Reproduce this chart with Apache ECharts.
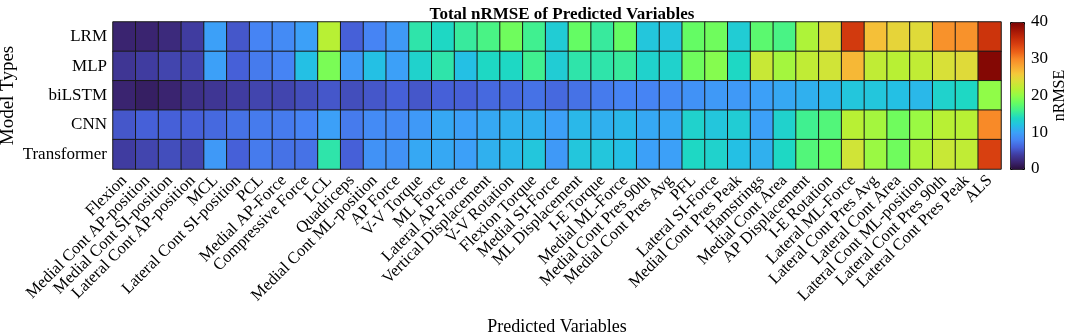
<!DOCTYPE html>
<html>
<head>
<meta charset="utf-8">
<script src="https://cdn.jsdelivr.net/npm/echarts@6/dist/echarts.min.js"></script>
<style>
  html, body { margin: 0; padding: 0; background: #fff; }
  #chart { width: 1065px; height: 334px; }
</style>
</head>
<body>
<div id="chart"></div>
<script>
// Data ---------------------------------------------------------------
const models = ['LRM', 'MLP', 'biLSTM', 'CNN', 'Transformer'];

const variables = [
    'Flexion', 'Medial Cont AP-position', 'Medial Cont SI-position', 'Lateral Cont AP-position',
    'MCL', 'Lateral Cont SI-position', 'PCL', 'Medial AP-Force', 'Compressive Force', 'LCL',
    'Quadriceps', 'Medial Cont ML-position', 'AP Force', 'V-V Torque', 'ML Force',
    'Lateral AP-Force', 'Vertical Displacement', 'V-V Rotation', 'Flexion Torque',
    'Medial SI-Force', 'ML Displacement', 'I-E Torque', 'Medial ML-Force',
    'Medial Cont Pres 90th', 'Medial Cont Pres Avg', 'PFL', 'Lateral SI-Force',
    'Medial Cont Pres Peak', 'Hamstrings', 'Medial Cont Area', 'AP Displacement',
    'I-E Rotation', 'Lateral ML-Force', 'Lateral Cont Pres Avg', 'Lateral Cont Area',
    'Lateral Cont ML-position', 'Lateral Cont Pres 90th', 'Lateral Cont Pres Peak', 'ALS'
];

const lrm = [2, 2, 2.5, 4, 10, 5.5, 8, 8.5, 10, 22, 6, 8, 9.5, 15, 14, 15.5, 16.5, 18.5, 16, 13,
    18, 15.5, 18, 12.5, 12.5, 18, 18.5, 13, 17.5, 16.5, 21.5, 24.5, 34.5, 26.5, 25, 24.5, 29.5, 29.5, 35];
const mlp = [3.5, 4, 4.5, 4.5, 10, 6, 7.5, 8, 12, 19, 9.5, 12, 10, 13.5, 15, 12, 14, 14, 16, 13,
    15, 15, 15.5, 13.5, 13.5, 18.5, 19.5, 14, 23, 21, 22.5, 23.5, 27, 22.5, 22, 22.5, 24, 24.5, 39.5];
const bilstm = [2, 1.5, 2, 3, 3.5, 4, 4.5, 4.5, 5, 5.5, 5, 5.5, 6, 5.5, 6, 6, 6.5, 6.5, 7, 6.5,
    7, 7.5, 8, 8, 8.5, 9, 9.5, 9.5, 10, 10.5, 11, 11.5, 12.5, 12.5, 12, 11.5, 13.5, 14, 20];
const cnn = [5.5, 6, 6, 6, 6.5, 7, 7.5, 7.5, 8, 10, 7.5, 8.5, 8.5, 9.5, 10.5, 10, 10.5, 11, 11, 10,
    11.5, 11, 11.5, 10.5, 10.5, 13.5, 12.5, 13, 10, 13.5, 16, 17, 22, 21, 18.5, 20.5, 22, 22, 30];
const transformer = [4, 4.5, 5, 4.5, 9.5, 6, 7.5, 7, 7, 15, 6, 9, 9, 10.5, 10.5, 10, 11, 11.5, 12.5, 9.5,
    12.5, 12.5, 12, 10, 10, 14, 13.5, 12, 11, 14, 17, 18, 23.5, 20.5, 18.5, 21.5, 23, 22.5, 34];

const colorTicks = [0, 10, 20, 30, 40];

// Colour scale (turbo-like) -------------------------------------------
const scaleColors = [
    '#2a0e3a', '#3a2470', '#403ca0', '#4660d8', '#4684f4', '#3ca0f8', '#24c0e4',
    '#1ed8c4', '#40f090', '#64fc64', '#90fc48', '#b8f034', '#d8e038', '#f4c83a',
    '#f8a832', '#f88a28', '#ec6018', '#d84010', '#c02808', '#a01406', '#7a0403'
];

const rows = [lrm, mlp, bilstm, cnn, transformer];
const cells = [];
rows.forEach((row, y) => {
    row.forEach((v, x) => cells.push([x, y, v]));
});

const font = 'Liberation Serif';

const chart = echarts.init(document.getElementById('chart'));

chart.setOption({
    animation: false,
    textStyle: {fontFamily: font, color: '#000'},
    title: {
        text: 'Total nRMSE of Predicted Variables',
        left: 557,
        textAlign: 'center',
        top: 1,
        textStyle: {fontFamily: font, fontSize: 17, fontWeight: 'bold', color: '#000'}
    },
    grid: [
        {left: 113, top: 22, width: 888, height: 147, outerBoundsMode: 'none'},
        {left: 1010, top: 22, width: 14, height: 147, outerBoundsMode: 'none'}
    ],
    xAxis: [
        {
            type: 'category',
            data: variables,
            gridIndex: 0,
            axisLine: {show: false},
            axisTick: {show: false},
            splitArea: {show: false},
            axisLabel: {
                rotate: 45,
                interval: 0,
                fontSize: 16.5,
                fontFamily: font,
                color: '#000',
                margin: 9
            },
            name: 'Predicted Variables',
            nameLocation: 'middle',
            nameGap: 149,
            nameTextStyle: {fontFamily: font, fontSize: 18, color: '#000'}
        },
        {type: 'value', gridIndex: 1, show: false, min: 0, max: 1}
    ],
    yAxis: [
        {
            type: 'category',
            data: models,
            inverse: true,
            gridIndex: 0,
            axisLine: {show: false},
            axisTick: {show: false},
            axisLabel: {fontSize: 17, fontFamily: font, color: '#000', margin: 6},
            name: 'Model Types',
            nameLocation: 'middle',
            nameRotate: 90,
            nameGap: 95,
            nameMoveOverlap: false,
            nameTextStyle: {fontFamily: font, fontSize: 19, color: '#000'}
        },
        {
            type: 'value',
            gridIndex: 1,
            position: 'right',
            min: 0,
            max: 40,
            interval: 10,
            axisLine: {show: false},
            axisTick: {show: false},
            splitLine: {show: false},
            axisLabel: {fontSize: 17, fontFamily: font, color: '#000', margin: 7},
            name: 'nRMSE',
            nameLocation: 'middle',
            nameRotate: 90,
            nameGap: 27,
            nameTextStyle: {fontFamily: font, fontSize: 16, color: '#000'},
            data: colorTicks
        }
    ],
    visualMap: {
        type: 'continuous',
        min: 0,
        max: 40,
        seriesIndex: 0,
        calculable: false,
        orient: 'vertical',
        left: 1010,
        top: 22,
        padding: 0,
        itemWidth: 14,
        itemHeight: 147,
        text: null,
        showLabel: false,
        borderColor: '#000',
        borderWidth: 1,
        inRange: {color: scaleColors}
    },
    series: [{
        type: 'heatmap',
        xAxisIndex: 0,
        yAxisIndex: 0,
        data: cells,
        itemStyle: {borderColor: '#1a1a1a', borderWidth: 1},
        emphasis: {disabled: true}
    }]
});
</script>
</body>
</html>
